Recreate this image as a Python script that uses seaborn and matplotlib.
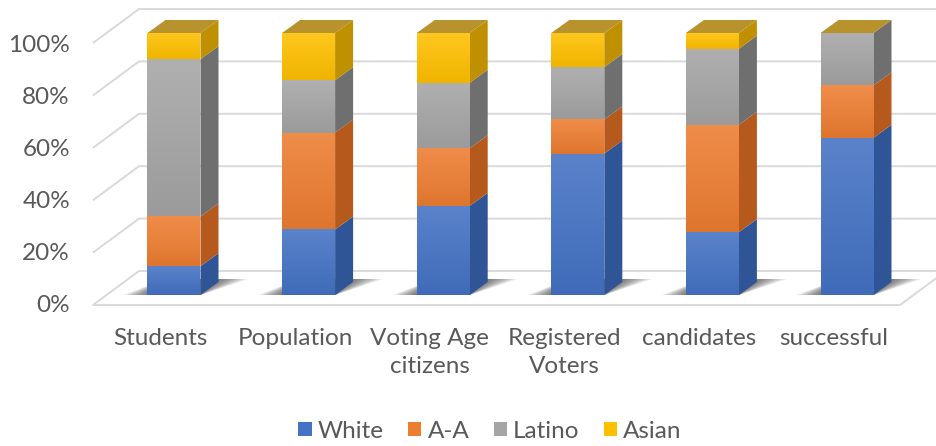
import numpy as np
import matplotlib
matplotlib.use("Agg")
import matplotlib.pyplot as plt
from matplotlib.patches import Polygon, Patch
from matplotlib.colors import to_rgb
import seaborn as sns

# Share of each group at every stage (percent)
categories = ["Students", "Population", "Voting Age\ncitizens",
              "Registered\nVoters", "candidates", "successful"]
white = [11, 25, 34, 54, 24, 60]
african_american = [19, 37, 22, 13, 41, 20]
latino = [60, 20, 25, 20, 29, 20]
asian = [10, 18, 19, 13, 6, 0]
series_names = ["White", "A-A", "Latino", "Asian"]
series_values = [white, african_american, latino, asian]
y_ticks = [0, 20, 40, 60, 80, 100]

front_colors = ["#4472C4", "#ED7D31", "#A5A5A5", "#FFC000"]
side_colors = ["#2F5597", "#B5591C", "#6F6F6F", "#BF9000"]
top_color = "#B8922C"
grid_color = "#D9D9D9"
text_color = "#595959"

sns.set_theme(style="white")
plt.rcParams["font.family"] = ["Lato", "DejaVu Sans"]

W, H = 937, 446
fig = plt.figure(figsize=(W / 100, H / 100), dpi=100)
ax = fig.add_axes([0, 0, 1, 1])

# Pixel layout of the pseudo-3D scene
X0, STEP = 174.0, 134.6    # first bar centre, spacing between bars
Y0, SCALE = 295.0, 262.0   # bar base line, pixels per 100 %
DEPTH_X, DEPTH_Y = 18.0, 13.0   # bar depth offset
BAR_W = 53.0 / STEP
FONT_SIZE = 17.5


def px(x_pix, y_pix):
    return (x_pix - X0) / STEP, (Y0 - y_pix) / SCALE


ddx = DEPTH_X / STEP
ddy = DEPTH_Y / SCALE

# Back wall, side wall and floor
for v in y_ticks:
    f = v / 100
    front = px(93, 305 - 262 * f)
    back = px(139, 271 - 262 * f)
    end = px(W + 5, 271 - 262 * f)
    ax.plot([front[0], back[0], end[0]], [front[1], back[1], end[1]],
            color=grid_color, lw=1.4, zorder=1, solid_capstyle="butt")
fl = [px(93, 305), px(900, 305), px(946, 271)]
ax.plot([p[0] for p in fl], [p[1] for p in fl], color=grid_color, lw=1.4, zorder=1)

# Soft floor shadows under each bar
for i in range(len(categories)):
    xl = i - BAR_W / 2
    xr = i + BAR_W / 2
    n = 10
    for k in range(n):
        ext = 1 - k / n
        pts = [
            (xl - (24 / STEP) * ext, 0),
            (xr, 0),
            (xr + ddx + (30 / STEP) * ext, ddy + 3 / SCALE),
            (xl + ddx, ddy + 3 / SCALE),
        ]
        ax.add_patch(Polygon(pts, closed=True, facecolor="#202020",
                             edgecolor="none", alpha=0.08, zorder=2))

# Stacked bars (front faces) through seaborn
bottom = np.zeros(len(categories))
segments = []
for name, vals, fc, sc in zip(series_names, series_values, front_colors, side_colors):
    frac = np.array(vals, dtype=float) / 100
    before = len(ax.patches)
    sns.barplot(x=categories, y=frac, bottom=bottom.copy(), color=fc,
                saturation=1, width=BAR_W, errorbar=None, ax=ax,
                linewidth=0, zorder=4)
    for rect in ax.patches[before:]:
        segments.append((rect, fc, sc))
    bottom += frac


def shade(c, amt):
    r = np.array(to_rgb(c))
    if amt > 0:
        return r + (1 - r) * amt
    return r * (1 + amt)


# Gradient fill, side faces and top caps
for rect, fc, sc in segments:
    x, y, w, h = rect.get_x(), rect.get_y(), rect.get_width(), rect.get_height()
    if h <= 0:
        continue
    grad = np.linspace(0, 1, 64)[:, None]
    top_c, bot_c = shade(fc, 0.12), shade(fc, -0.06)
    img = (bot_c[None, None, :] * (1 - grad[..., None]) + top_c[None, None, :] * grad[..., None])
    img = np.repeat(img, 2, axis=1)
    im = ax.imshow(img, extent=(x, x + w, y, y + h), origin="lower",
                   aspect="auto", zorder=4.5, interpolation="bilinear")
    im.set_clip_path(rect)
    side = [(x + w, y), (x + w + ddx, y + ddy), (x + w + ddx, y + h + ddy), (x + w, y + h)]
    ax.add_patch(Polygon(side, closed=True, facecolor=sc, edgecolor="none", zorder=4))

for i in range(len(categories)):
    xl = i - BAR_W / 2
    top = bottom[i]
    cap = [(xl, top), (xl + BAR_W, top), (xl + BAR_W + ddx, top + ddy), (xl + ddx, top + ddy)]
    ax.add_patch(Polygon(cap, closed=True, facecolor=top_color, edgecolor="none", zorder=4))

ax.set_xlim(-X0 / STEP, (W - X0) / STEP)
ax.set_ylim((Y0 - H) / SCALE, Y0 / SCALE)
ax.axis("off")

# Category labels and percentage ticks
for i, cat in enumerate(categories):
    lx, ly = px(X0 + i * STEP - 13.5, 328)
    ax.text(lx, ly, cat, ha="center", va="top", fontsize=FONT_SIZE,
            color=text_color, linespacing=1.42)
for v in y_ticks:
    tx, ty = px(70, 306 - 260 * v / 100)
    ax.text(tx, ty, f"{v}%", ha="right", va="center", fontsize=FONT_SIZE, color=text_color)

handles = [Patch(facecolor=c, edgecolor="none") for c in front_colors]
fig.legend(handles, series_names, loc="center", bbox_to_anchor=(490 / W, 1 - 431 / H),
           ncol=4, frameon=False, fontsize=FONT_SIZE, handlelength=0.55, handleheight=0.55,
           handletextpad=0.25, columnspacing=1.0, labelcolor=text_color)

fig.savefig("out.png", dpi=100)
